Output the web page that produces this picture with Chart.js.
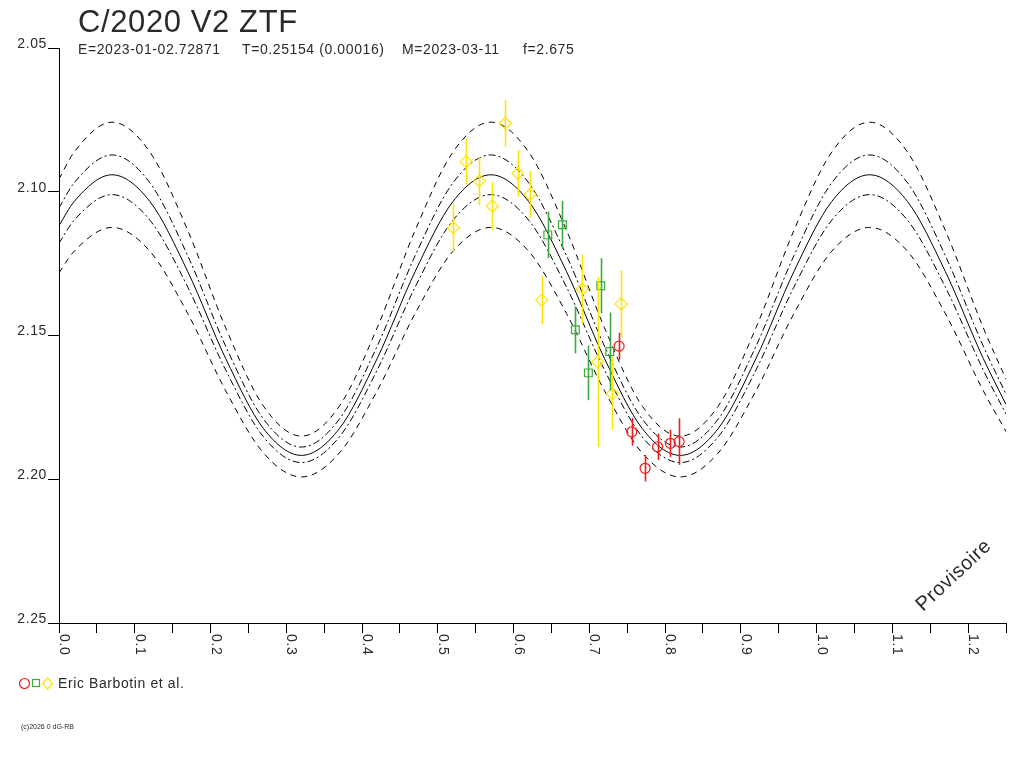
<!DOCTYPE html>
<html>
<head>
<meta charset="utf-8">
<title>C/2020 V2 ZTF</title>
<script src="https://cdn.jsdelivr.net/npm/chart.js"></script>
<style>
  html, body { margin: 0; padding: 0; background: #fff; }
  canvas { display: block; }
</style>
</head>
<body>
<canvas id="courbe" width="1024" height="768"></canvas>
<script>
// Phase grid for the model curves
const phaseGrille = [0, 0.02, 0.07, 0.12, 0.17, 0.22, 0.27, 0.32, 0.37, 0.42, 0.47, 0.52, 0.57, 0.62, 0.67, 0.72, 0.77, 0.82, 0.87, 0.92, 0.97, 1.02, 1.07, 1.12, 1.17, 1.22, 1.25];

// Model curve and its envelopes
const enveloppeHaut2 = [2.0956, 2.0862, 2.0758, 2.0862, 2.1135, 2.1473, 2.1746, 2.1850, 2.1746, 2.1473, 2.1135, 2.0862, 2.0758, 2.0862, 2.1135, 2.1473, 2.1746, 2.1850, 2.1746, 2.1473, 2.1135, 2.0862, 2.0758, 2.0862, 2.1135, 2.1473, 2.1652];
const enveloppeHaut1 = [2.1056, 2.0969, 2.0872, 2.0969, 2.1223, 2.1537, 2.1791, 2.1888, 2.1791, 2.1537, 2.1223, 2.0969, 2.0872, 2.0969, 2.1223, 2.1537, 2.1791, 2.1888, 2.1791, 2.1537, 2.1223, 2.0969, 2.0872, 2.0969, 2.1223, 2.1537, 2.1704];
const courbeModele = [2.1118, 2.1034, 2.0941, 2.1034, 2.1278, 2.1580, 2.1824, 2.1917, 2.1824, 2.1580, 2.1278, 2.1034, 2.0941, 2.1034, 2.1278, 2.1580, 2.1824, 2.1917, 2.1824, 2.1580, 2.1278, 2.1034, 2.0941, 2.1034, 2.1278, 2.1580, 2.1740];
const enveloppeBas1 = [2.1179, 2.1099, 2.1010, 2.1099, 2.1332, 2.1620, 2.1853, 2.1942, 2.1853, 2.1620, 2.1332, 2.1099, 2.1010, 2.1099, 2.1332, 2.1620, 2.1853, 2.1942, 2.1853, 2.1620, 2.1332, 2.1099, 2.1010, 2.1099, 2.1332, 2.1620, 2.1773];
const enveloppeBas2 = [2.1282, 2.1207, 2.1124, 2.1207, 2.1424, 2.1692, 2.1909, 2.1992, 2.1909, 2.1692, 2.1424, 2.1207, 2.1124, 2.1207, 2.1424, 2.1692, 2.1909, 2.1992, 2.1909, 2.1692, 2.1424, 2.1207, 2.1124, 2.1207, 2.1424, 2.1692, 2.1834];

// Observations (Eric Barbotin et al.)
const jauneX = [0.5205, 0.5373, 0.5549, 0.5720, 0.5888, 0.6055, 0.6218, 0.6372, 0.6908, 0.7111, 0.7304, 0.7419];
const jauneY = [2.1125, 2.0895, 2.0962, 2.1050, 2.0762, 2.0936, 2.1009, 2.1377, 2.1339, 2.1592, 2.1702, 2.1390];
const jauneErr = [0.0081, 0.0080, 0.0084, 0.0083, 0.0081, 0.0081, 0.0081, 0.0084, 0.0119, 0.0296, 0.0127, 0.0116];

const vertX = [0.6452, 0.6644, 0.6816, 0.6987, 0.7151, 0.7270];
const vertY = [2.1150, 2.1115, 2.1480, 2.1630, 2.1327, 2.1556];
const vertErr = [0.0081, 0.0083, 0.0082, 0.0095, 0.0096, 0.0136];

const rougeX = [0.7393, 0.7560, 0.7736, 0.7901, 0.8070, 0.8185];
const rougeY = [2.1537, 2.1835, 2.1962, 2.1887, 2.1875, 2.1869];
const rougeErr = [0.0047, 0.0048, 0.0046, 0.0046, 0.0047, 0.0081];

// Axes
const yGraduations = [2.05, 2.10, 2.15, 2.20, 2.25];
const xMin = 0, xMax = 1.25, xPas = 0.05;

const titre = 'C/2020 V2 ZTF';
const sousTitre = [
  ['E=2023-01-02.72871', 78],
  ['T=0.25154 (0.00016)', 242],
  ['M=2023-03-11', 402],
  ['f=2.675', 523]
];
const legendeTexte = 'Eric Barbotin et al.';

const ROUGE = '#ee1c1c';
const VERT = '#3caa3c';
const JAUNE = '#ffe400';
const TEXTE = '#2a2a2a';
const POLICE = "'Liberation Sans', Arial, sans-serif";

function paires(xs, ys) {
  return xs.map((x, i) => ({ x: x, y: ys[i] }));
}

function courbe(valeurs, tirets) {
  return {
    type: 'line',
    data: paires(phaseGrille, valeurs),
    borderColor: '#000',
    borderWidth: 1,
    borderDash: tirets,
    pointRadius: 0,
    cubicInterpolationMode: 'monotone',
    fill: false,
    order: 2
  };
}

function observations(xs, ys, errs, couleur, forme, rayon) {
  return {
    type: 'scatter',
    data: paires(xs, ys),
    erreurs: errs,
    borderColor: couleur,
    pointBorderColor: couleur,
    pointBackgroundColor: 'rgba(0,0,0,0)',
    pointBorderWidth: 1.2,
    pointStyle: forme,
    pointRadius: rayon,
    showLine: false,
    order: 1
  };
}

// Texts, error bars, rotated x labels, legend
const decorPlugin = {
  id: 'decor',
  beforeDraw(chart) {
    const ctx = chart.ctx;
    ctx.save();
    ctx.fillStyle = '#fff';
    ctx.fillRect(0, 0, chart.width, chart.height);
    ctx.restore();
    ctx.letterSpacing = '0.6px';
  },
  afterDatasetsDraw(chart) {
    const ctx = chart.ctx;
    const sx = chart.scales.x, sy = chart.scales.y;
    ctx.save();
    ctx.lineWidth = 1.6;
    chart.data.datasets.forEach(ds => {
      if (!ds.erreurs) return;
      ctx.strokeStyle = ds.borderColor;
      ds.data.forEach((p, j) => {
        const px = Math.round(sx.getPixelForValue(p.x)) + 0.5;
        ctx.beginPath();
        ctx.moveTo(px, sy.getPixelForValue(p.y - ds.erreurs[j]));
        ctx.lineTo(px, sy.getPixelForValue(p.y + ds.erreurs[j]));
        ctx.stroke();
      });
    });
    ctx.restore();
  },
  afterDraw(chart) {
    const ctx = chart.ctx;
    const sx = chart.scales.x;
    ctx.save();
    ctx.fillStyle = TEXTE;
    ctx.letterSpacing = '0.6px';

    // Title and parameters
    ctx.textBaseline = 'alphabetic';
    ctx.font = '31px ' + POLICE;
    ctx.fillText(titre, 78, 32);
    ctx.font = '14px ' + POLICE;
    sousTitre.forEach(([txt, x]) => ctx.fillText(txt, x, 54));

    // x labels, rotated a quarter turn clockwise
    sx.ticks.forEach(t => {
      const dix = t.value * 10;
      if (Math.abs(dix - Math.round(dix)) > 1e-6) return;
      const px = sx.getPixelForValue(t.value);
      ctx.save();
      ctx.translate(Math.round(px) + 1, 634);
      ctx.rotate(Math.PI / 2);
      ctx.textAlign = 'left';
      ctx.fillText(t.value.toFixed(1), 0, 0);
      ctx.restore();
    });

    // Legend
    ctx.lineWidth = 1.2;
    ctx.strokeStyle = ROUGE;
    ctx.beginPath();
    ctx.arc(24.5, 683.5, 5, 0, Math.PI * 2);
    ctx.stroke();
    ctx.strokeStyle = VERT;
    ctx.strokeRect(32.5, 679.5, 7, 7);
    ctx.strokeStyle = JAUNE;
    ctx.beginPath();
    ctx.moveTo(47.5, 678);
    ctx.lineTo(52.5, 683.5);
    ctx.lineTo(47.5, 689);
    ctx.lineTo(42.5, 683.5);
    ctx.closePath();
    ctx.stroke();
    ctx.textBaseline = 'middle';
    ctx.fillText(legendeTexte, 58, 684);

    // Watermark
    ctx.save();
    ctx.translate(923, 612);
    ctx.rotate(-43 * Math.PI / 180);
    ctx.textBaseline = 'alphabetic';
    ctx.font = '20px ' + POLICE;
    ctx.fillText('Provisoire', 0, 0);
    ctx.restore();

    // Copyright
    ctx.letterSpacing = '0px';
    ctx.textBaseline = 'alphabetic';
    ctx.font = '7px ' + POLICE;
    ctx.fillText('(c)2026 0 dG-RB', 21, 729);
    ctx.restore();
  }
};

document.addEventListener('DOMContentLoaded', function() {
  Chart.defaults.font.family = POLICE;

  new Chart(document.getElementById('courbe').getContext('2d'), {
    data: {
      datasets: [
        observations(rougeX, rougeY, rougeErr, ROUGE, 'circle', 5),
        observations(vertX, vertY, vertErr, VERT, 'rect', 5.5),
        observations(jauneX, jauneY, jauneErr, JAUNE, 'rectRot', 6),
        courbe(enveloppeHaut2, [6, 5]),
        courbe(enveloppeHaut1, [7, 3, 2, 3]),
        courbe(courbeModele, []),
        courbe(enveloppeBas1, [7, 3, 2, 3]),
        courbe(enveloppeBas2, [6, 5])
      ]
    },
    options: {
      responsive: false,
      animation: false,
      events: [],
      layout: { padding: { top: 48, right: 18, left: 0, bottom: 0 } },
      plugins: {
        legend: { display: false },
        tooltip: { enabled: false },
        title: { display: false }
      },
      scales: {
        x: {
          type: 'linear',
          min: xMin,
          max: xMax,
          afterFit: s => { s.height = 145; },
          ticks: { stepSize: xPas, display: false },
          grid: { drawOnChartArea: false, drawTicks: true, tickLength: 10, color: '#000', lineWidth: 1 },
          border: { display: true, color: '#000', width: 1 }
        },
        y: {
          type: 'linear',
          reverse: true,
          min: yGraduations[0],
          max: yGraduations[yGraduations.length - 1],
          afterFit: s => { s.width = 59; },
          ticks: {
            stepSize: 0.05,
            padding: 1,
            labelOffset: -4,
            color: TEXTE,
            font: { size: 14 },
            callback: v => v.toFixed(2)
          },
          grid: { drawOnChartArea: false, drawTicks: true, tickLength: 11, color: '#000', lineWidth: 1 },
          border: { display: true, color: '#000', width: 1 }
        }
      }
    },
    plugins: [decorPlugin]
  });
});
</script>
</body>
</html>
